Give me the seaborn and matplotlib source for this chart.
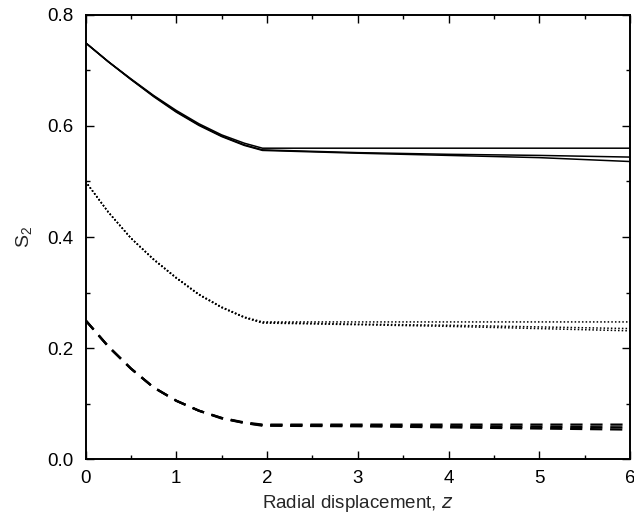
import matplotlib
matplotlib.use("Agg")
import matplotlib.pyplot as plt
import seaborn as sns
import numpy as np
from matplotlib.ticker import MultipleLocator

# Data
z = [0, 0.25, 0.5, 0.75, 1.0, 1.25, 1.5, 1.75, 1.95, 3, 4, 5, 6]

solid_a = [0.750, 0.716, 0.685, 0.655, 0.628, 0.604, 0.584, 0.569, 0.560, 0.560, 0.560, 0.560, 0.560]
solid_b = [0.750, 0.716, 0.684, 0.654, 0.626, 0.602, 0.582, 0.566, 0.557, 0.552, 0.549, 0.547, 0.544]
solid_c = [0.750, 0.716, 0.684, 0.653, 0.625, 0.601, 0.581, 0.565, 0.556, 0.551, 0.547, 0.543, 0.536]

dotted_a = [0.500, 0.445, 0.398, 0.360, 0.327, 0.297, 0.274, 0.256, 0.247, 0.247, 0.247, 0.247, 0.247]
dotted_b = [0.500, 0.445, 0.398, 0.360, 0.326, 0.296, 0.273, 0.255, 0.246, 0.243, 0.241, 0.238, 0.235]
dotted_c = [0.500, 0.445, 0.398, 0.359, 0.326, 0.296, 0.273, 0.255, 0.245, 0.242, 0.239, 0.235, 0.231]

dashed_a = [0.250, 0.203, 0.163, 0.129, 0.105, 0.087, 0.074, 0.066, 0.062, 0.062, 0.062, 0.062, 0.062]
dashed_b = [0.250, 0.203, 0.163, 0.129, 0.105, 0.087, 0.074, 0.065, 0.061, 0.060, 0.059, 0.058, 0.057]
dashed_c = [0.250, 0.203, 0.163, 0.129, 0.105, 0.087, 0.073, 0.065, 0.060, 0.059, 0.057, 0.055, 0.053]

x_ticks = [0, 1, 2, 3, 4, 5, 6]
y_ticks = [0.0, 0.2, 0.4, 0.6, 0.8]
y_tick_labels = ["0.0", "0.2", "0.4", "0.6", "0.8"]

sns.set_style("ticks")
plt.rcParams['font.family'] = ['Liberation Sans', 'DejaVu Sans']

fig = plt.figure(figsize=(6.34, 5.15), dpi=100)
ax = fig.add_axes([0.1349, 0.1087, 0.8588, 0.8622])

for s in (solid_a, solid_b, solid_c):
    sns.lineplot(x=z, y=s, ax=ax, color='black', lw=1.1, estimator=None)
for s in (dotted_a, dotted_b, dotted_c):
    sns.lineplot(x=z, y=s, ax=ax, color='black', lw=1.1, estimator=None,
                 linestyle=(0, (1, 1.4)))
for s in (dashed_a, dashed_b, dashed_c):
    sns.lineplot(x=z, y=s, ax=ax, color='black', lw=1.6, estimator=None,
                 linestyle=(0, (5.5, 3.5)))

ax.set_xlim(0, 6)
ax.set_ylim(0, 0.8)
ax.set_xticks(x_ticks)
ax.set_xticklabels([str(t) for t in x_ticks])
ax.set_yticks(y_ticks)
ax.set_yticklabels(y_tick_labels)
ax.xaxis.set_minor_locator(MultipleLocator(0.5))
ax.yaxis.set_minor_locator(MultipleLocator(0.1))
ax.tick_params(which='both', direction='in', top=True, right=True,
               width=1.0, colors='black', labelsize=13.5)
ax.tick_params(axis='x', which='major', length=6, pad=8)
ax.tick_params(axis='y', which='major', length=6, pad=9)
ax.tick_params(which='minor', length=3)
for sp in ax.spines.values():
    sp.set_linewidth(1.4)
    sp.set_color('black')

ax.set_xlabel(r'Radial displacement, $\it{z}$', fontsize=13.5, labelpad=4)
ax.set_ylabel(r'$\mathregular{S_2}$', fontsize=14, labelpad=9)

fig.savefig('out.png', dpi=100)
